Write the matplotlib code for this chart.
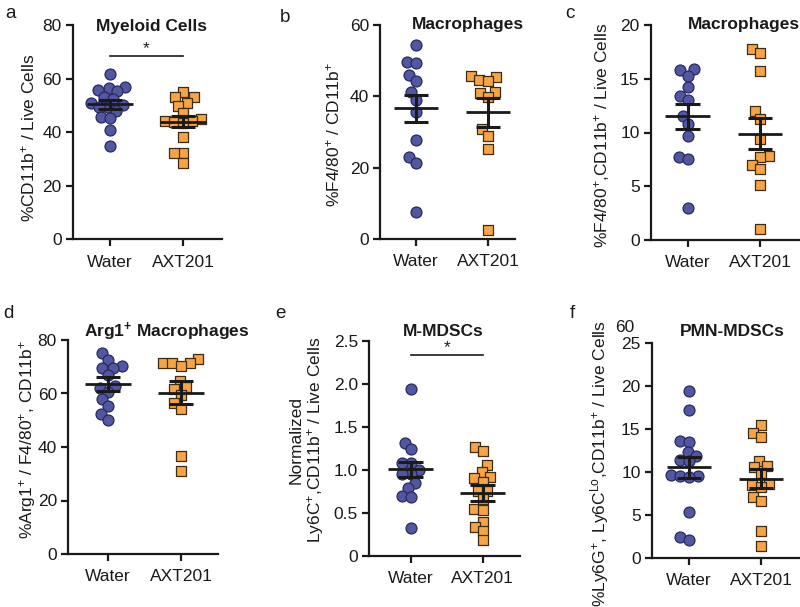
import numpy as np
import matplotlib
matplotlib.use("Agg")
import matplotlib.pyplot as plt

plt.rcParams['font.family'] = ['Liberation Sans', 'DejaVu Sans']
plt.rcParams['mathtext.fontset'] = 'custom'
plt.rcParams['mathtext.rm'] = 'Liberation Sans'
plt.rcParams['mathtext.it'] = 'Liberation Sans:italic'
plt.rcParams['mathtext.bf'] = 'Liberation Sans:bold'

groups = ["Water", "AXT201"]

# ---------------- data ----------------
a_water = [61.7, 57.0, 56.3, 55.7, 55.3, 53.2, 52.4, 50.7, 50.1, 49.5, 49.5, 47.9, 45.8, 45.4, 40.8, 35.0]
a_axt = [55.1, 53.0, 53.0, 50.7, 49.9, 47.0, 44.8, 44.3, 44.0, 43.8, 43.5, 38.3, 32.1, 32.1, 28.4]
a_mean = [50.4, 43.9]
a_sem = [1.6, 2.1]

b_water = [54.4, 49.7, 49.3, 46.0, 44.3, 41.1, 39.0, 35.7, 27.8, 22.9, 21.3, 7.7]
b_axt = [45.8, 45.5, 44.6, 44.4, 41.3, 41.0, 39.7, 30.8, 28.9, 25.2, 2.6]
b_mean = [36.6, 35.5]
b_sem = [3.8, 4.0]

c_water = [15.9, 15.8, 15.3, 14.2, 13.4, 13.0, 11.5, 10.8, 9.7, 7.7, 7.5, 3.0]
c_axt = [17.8, 17.4, 15.7, 12.0, 11.3, 9.4, 7.8, 7.75, 7.0, 6.6, 5.1, 1.0]
c_mean = [11.5, 9.9]
c_sem = [1.15, 1.45]

d_water = [75.0, 72.5, 70.3, 69.7, 69.4, 66.9, 62.8, 62.2, 60.7, 57.8, 55.3, 52.4, 50.1]
d_axt = [72.8, 71.5, 71.3, 71.3, 70.3, 64.8, 62.3, 61.7, 59.6, 56.5, 54.3, 36.7, 31.2]
d_mean = [63.6, 60.2]
d_sem = [2.5, 4.3]

e_water = [1.935, 1.316, 1.24, 1.08, 1.08, 1.0, 0.95, 0.95, 0.85, 0.79, 0.70, 0.69, 0.32]
e_axt = [1.27, 1.22, 1.056, 0.97, 0.92, 0.90, 0.86, 0.75, 0.75, 0.66, 0.54, 0.53, 0.40, 0.34, 0.29, 0.18]
e_mean = [1.006, 0.73]
e_sem = [0.088, 0.09]

f_water = [19.4, 17.2, 13.6, 13.4, 12.3, 11.8, 11.4, 11.2, 9.6, 9.5, 9.5, 9.4, 5.35, 2.4, 2.1]
f_axt = [15.4, 14.5, 14.0, 11.3, 10.7, 10.5, 9.9, 8.6, 8.4, 8.2, 7.1, 6.6, 3.1, 1.36]
f_mean = [10.5, 9.2]
f_sem = [1.2, 1.1]

# ---------------- layout ----------------
W, H = 800, 607
fig = plt.figure(figsize=(8.0, 6.07), dpi=100)

BLUE = '#5257a3'
BLUE_EDGE = '#262a5c'
ORANGE = '#f7a444'
ORANGE_EDGE = '#3d2c14'
DARK = '#1a1a1a'
FS = 12.5


def swarm(vals, d_x, d_y):
    vals = np.asarray(vals, float)
    order = np.argsort(vals)
    placed = []
    xs = np.zeros(len(vals))
    for i in order:
        y = vals[i]
        cands = [0.0]
        for (px, py) in placed:
            dy = (y - py) / d_y
            if abs(dy) < 1:
                dx = np.sqrt(1 - dy * dy) * d_x
                cands += [px + dx, px - dx]
        cands = sorted(cands, key=lambda c: (abs(c), c))
        for c in cands:
            ok = True
            for (px, py) in placed:
                if ((c - px) / d_x) ** 2 + ((y - py) / d_y) ** 2 < 0.999:
                    ok = False
                    break
            if ok:
                xs[i] = c
                placed.append((c, y))
                break
    return xs


def panel(L, R, T, B, Wp, Ap, ymax, yticks, ylabels, water, axt, mean, sem,
          title, title_xy):
    ax = fig.add_axes([L / W, 1 - B / H, (R - L) / W, (B - T) / H])
    s = Ap - Wp
    ax.set_xlim((L - Wp) / s, (R - Wp) / s)
    ax.set_ylim(0, ymax)
    ppy = (B - T) / ymax  # pixels per y unit
    dpx = 9.0
    for k, (vals, col, ec, mk) in enumerate([(water, BLUE, BLUE_EDGE, 'o'),
                                             (axt, ORANGE, ORANGE_EDGE, 's')]):
        xs = swarm(vals, dpx / s, dpx / ppy) + k
        ax.scatter(xs, vals, s=62 if mk == 'o' else 52, marker=mk, facecolor=col,
                   edgecolor=ec, linewidth=0.9, zorder=3, clip_on=False)
        m, e = mean[k], sem[k]
        ax.plot([k - 0.31, k + 0.31], [m, m], color=DARK, lw=2, zorder=4,
                solid_capstyle='butt')
        ax.plot([k, k], [m - e, m + e], color=DARK, lw=2.2, zorder=4)
        for yy in (m - e, m + e):
            ax.plot([k - 0.17, k + 0.17], [yy, yy], color=DARK, lw=2.2, zorder=4,
                    solid_capstyle='butt')
    ax.set_xticks([0, 1])
    ax.set_xticklabels(groups, fontsize=FS)
    ax.set_yticks(yticks)
    ax.set_yticklabels(ylabels, fontsize=FS)
    for sp in ('top', 'right'):
        ax.spines[sp].set_visible(False)
    for sp in ('left', 'bottom'):
        ax.spines[sp].set_linewidth(1.6)
        ax.spines[sp].set_color(DARK)
    ax.tick_params(axis='both', width=1.6, length=5, color=DARK, labelcolor=DARK)
    ax.tick_params(axis='x', pad=6)
    ax.tick_params(axis='y', pad=3)
    fig.text(title_xy[0] / W, 1 - title_xy[1] / H, title, ha='center', va='center',
             fontsize=FS, fontweight='bold', color=DARK)
    return ax


ax_a = panel(72.7, 222, 25, 239.3, 110, 183, 80, [0, 20, 40, 60, 80],
             ['0', '20', '40', '60', '80'], a_water, a_axt, a_mean, a_sem,
             'Myeloid Cells', (152, 26))
ax_b = panel(380, 515, 25, 239, 416, 488, 60, [0, 20, 40, 60],
             ['0', '20', '40', '60'], b_water, b_axt, b_mean, b_sem,
             'Macrophages', (468, 25))
ax_c = panel(650.7, 799, 25, 240, 687.7, 760, 20, [0, 5, 10, 15, 20],
             ['0', '5', '10', '15', '20'], c_water, c_axt, c_mean, c_sem,
             'Macrophages', (744, 25))
ax_d = panel(68, 218, 340, 554, 108, 181, 80, [0, 20, 40, 60, 80],
             ['0', '20', '40', '60', '80'], d_water, d_axt, d_mean, d_sem,
             r'Arg1$^{\mathbf{+}}$ Macrophages', (167, 332))
ax_e = panel(369, 520, 340.7, 556, 410.7, 482.7, 2.5, [0, 0.5, 1.0, 1.5, 2.0, 2.5],
             ['0', '0.5', '1.0', '1.5', '2.0', '2.5'], e_water, e_axt, e_mean, e_sem,
             'M-MDSCs', (443, 332))
ax_f = panel(651.7, 800, 342.7, 557.7, 689, 761, 25, [0, 5, 10, 15, 20, 25],
             ['0', '5', '10', '15', '20', '25'], f_water, f_axt, f_mean, f_sem,
             'PMN-MDSCs', (732, 331))

# significance bars
sig = [(ax_a, 68.4, 71.2), (ax_e, 2.33, 2.42)]
for ax, yl, ys in sig:
    ax.plot([0, 1], [yl, yl], color=DARK, lw=1.2, clip_on=False)
    ax.text(0.5, ys, '*', ha='center', va='center', fontsize=FS, color=DARK)

# y labels
def ylab(x, y, txt, va='center'):
    fig.text(x / W, 1 - y / H, txt, rotation=90, ha='center', va=va,
             fontsize=FS, color=DARK, linespacing=1.1)

ylab(28, 138, r'%CD11b$^{+}$ / Live Cells')
ylab(333, 135, r'%F4/80$^{+}$ / CD11b$^{+}$')
ylab(602, 135, r'%F4/80$^{+}$,CD11b$^{+}$ / Live Cells')
ylab(28, 440, r'%Arg1$^{+}$ / F4/80$^{+}$, CD11b$^{+}$')
ylab(307, 440, 'Normalized\n' + r'Ly6C$^{+}$,CD11b$^{+}$ / Live Cells')
ylab(600, 320, r'%Ly6G$^{+}$, Ly6C$^{\mathrm{Lo}}$,CD11b$^{+}$ / Live Cells', va='top')

# stray label in panel f
fig.text(625 / W, 1 - 328 / H, '60', ha='center', va='center', fontsize=FS, color=DARK)

# panel letters
for letter, (x, y) in zip('abcdef', [(10, 14), (285, 17), (570, 14), (8, 314),
                                     (280, 314), (572, 314)]):
    fig.text(x / W, 1 - y / H, letter, ha='center', va='center', fontsize=13.5,
             color=DARK)

fig.savefig('out.png', dpi=100)
